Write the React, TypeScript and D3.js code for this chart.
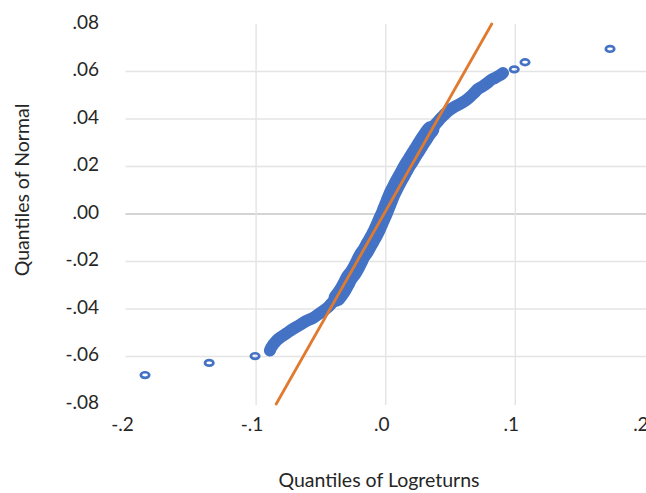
import React, { useEffect, useRef } from 'react';
import * as d3 from 'd3';

// Quantiles of Logreturns (x) vs quantiles of the Normal (y)
const logQuantiles = [
  -0.1857, -0.1362, -0.1008, -0.0893, -0.0885, -0.0846, -0.0808, -0.0762, -0.0715,
  -0.0661, -0.0615, -0.0561, -0.0507, -0.0453, -0.0415, -0.0376, -0.0337, -0.0306,
  -0.0283, -0.0252, -0.0229, -0.0206, -0.0183, -0.0152, -0.0133, -0.0113, -0.0094,
  -0.0075, -0.0059, -0.0044, -0.0029, -0.0013, 0.0002, 0.0018, 0.0033, 0.0049, 0.0068,
  0.0087, 0.0106, 0.0126, 0.0145, 0.0164, 0.0184, 0.0203, 0.0222, 0.0241, 0.0261,
  0.028, 0.0303, 0.0326, 0.0349, 0.0372, 0.0396, 0.0419, 0.0446, 0.0473, 0.0504,
  0.0542, 0.0573, 0.0612, 0.065, 0.0681, 0.0712, 0.0751, 0.0782, 0.0812, 0.0843,
  0.0882, 0.0897, 0.0905, 0.0992, 0.1075, 0.1731,
];
const normalQuantiles = [
  -0.0678, -0.0627, -0.0598, -0.0575, -0.0564, -0.0535, -0.0518, -0.0501, -0.0484,
  -0.0467, -0.0451, -0.0438, -0.0417, -0.0396, -0.0375, -0.0354, -0.0325, -0.0295,
  -0.027, -0.0248, -0.0227, -0.0202, -0.0177, -0.0152, -0.0133, -0.0114, -0.0095,
  -0.0076, -0.0057, -0.0038, -0.0019, 0.0, 0.0021, 0.0042, 0.0063, 0.0084, 0.0105,
  0.0126, 0.0145, 0.0164, 0.0183, 0.0202, 0.0219, 0.0236, 0.0253, 0.0269, 0.0286,
  0.0303, 0.0322, 0.0341, 0.0356, 0.0371, 0.0385, 0.04, 0.0415, 0.0429, 0.0442,
  0.0455, 0.0463, 0.0476, 0.0493, 0.0509, 0.0526, 0.0539, 0.0551, 0.0564, 0.0573,
  0.0585, 0.059, 0.0594, 0.0609, 0.0639, 0.0695,
];

// Reference (normal) line endpoints
const lineX = [-0.0845, 0.0818];
const lineY = [-0.08, 0.08];

const xTicks = [-0.2, -0.1, 0, 0.1, 0.2];
const yTicks = [-0.08, -0.06, -0.04, -0.02, 0, 0.02, 0.04, 0.06, 0.08];

const BLUE = '#4472C4';
const ORANGE = '#E07A2E';
const FONT = 'Lato, "Open Sans", sans-serif';

const fmt = (v: number, digits: number) => {
  const s = Math.abs(v).toFixed(digits).replace(/^0/, '');
  return v < 0 ? '-' + s : s;
};

const App = () => {
  const ref = useRef<SVGSVGElement | null>(null);

  useEffect(() => {
    const svg = d3.select(ref.current);
    svg.selectAll('*').remove();

    const width = 646;
    const height = 493;

    const x = d3.scaleLinear().domain([-0.2, 0.2]).range([126.5, 644.9]);
    const y = d3.scaleLinear().domain([-0.08, 0.08]).range([404, 24]);

    svg.append('rect').attr('width', width).attr('height', height).attr('fill', '#fff');

    // Gridlines
    const grid = svg.append('g');
    grid.selectAll('.hgrid')
      .data(yTicks.filter(t => Math.abs(t) < 0.07))
      .enter()
      .append('line')
      .attr('x1', x(-0.2) - 1)
      .attr('x2', width)
      .attr('y1', d => y(d))
      .attr('y2', d => y(d))
      .attr('stroke', d => (d === 0 ? '#c6c6c6' : '#e4e4e4'))
      .attr('stroke-width', 1.4);

    grid.selectAll('.vgrid')
      .data(xTicks.filter(t => Math.abs(t) < 0.15))
      .enter()
      .append('line')
      .attr('x1', d => x(d))
      .attr('x2', d => x(d))
      .attr('y1', y(0.08))
      .attr('y2', y(-0.08) + 1)
      .attr('stroke', '#e4e4e4')
      .attr('stroke-width', 1.4);

    // Tick labels
    svg.selectAll('.ylab')
      .data(yTicks)
      .enter()
      .append('text')
      .attr('x', 99)
      .attr('y', d => y(d) + 4.8)
      .attr('text-anchor', 'end')
      .attr('font-family', FONT)
      .attr('font-size', '19px')
      .attr('fill', '#262626')
      .text(d => fmt(d, 2));

    svg.selectAll('.xlab')
      .data(xTicks)
      .enter()
      .append('text')
      .attr('x', d => x(d) - 4)
      .attr('y', 431)
      .attr('text-anchor', 'middle')
      .attr('font-family', FONT)
      .attr('font-size', '19px')
      .attr('fill', '#262626')
      .text(d => fmt(d, 1));

    // Axis titles
    svg.append('text')
      .attr('x', 379)
      .attr('y', 487)
      .attr('text-anchor', 'middle')
      .attr('font-family', FONT)
      .attr('font-size', '19.5px')
      .attr('fill', '#262626')
      .text('Quantiles of Logreturns');

    svg.append('text')
      .attr('transform', 'translate(29,190) rotate(-90)')
      .attr('text-anchor', 'middle')
      .attr('font-family', FONT)
      .attr('font-size', '19.5px')
      .attr('fill', '#262626')
      .text('Quantiles of Normal');

    // Points
    const pts = logQuantiles.map((v, i) => ({ x: v, y: normalQuantiles[i] }));

    // split into runs of closely packed points (they merge into a solid band)
    const runs: { x: number; y: number }[][] = [];
    pts.forEach((p, i) => {
      const prev = pts[i - 1];
      const gap = prev ? Math.hypot(x(p.x) - x(prev.x), y(p.y) - y(prev.y)) : Infinity;
      if (gap > 10.5) runs.push([p]);
      else runs[runs.length - 1].push(p);
    });

    const line = d3.line<{ x: number; y: number }>()
      .x(d => x(d.x))
      .y(d => y(d.y))
      .curve(d3.curveCatmullRom);

    const band = svg.append('g');
    runs.filter(r => r.length > 1).forEach(r => {
      band.append('path')
        .attr('d', line(r))
        .attr('fill', 'none')
        .attr('stroke', BLUE)
        .attr('stroke-width', 12)
        .attr('stroke-linecap', 'round')
        .attr('stroke-linejoin', 'round');
      const inner = r.filter(p => Math.abs(p.y) < 0.036);
      if (inner.length > 1) {
        band.append('path')
          .attr('d', line(inner))
          .attr('fill', 'none')
          .attr('stroke', BLUE)
          .attr('stroke-width', 17)
          .attr('stroke-linecap', 'round')
          .attr('stroke-linejoin', 'round');
      }
    });

    svg.selectAll('.pt')
      .data(pts)
      .enter()
      .append('ellipse')
      .attr('cx', d => x(d.x))
      .attr('cy', d => y(d.y))
      .attr('rx', 4.2)
      .attr('ry', 2.8)
      .attr('fill', 'none')
      .attr('stroke', BLUE)
      .attr('stroke-width', 2.7);

    // Reference line
    svg.append('line')
      .attr('x1', x(lineX[0]))
      .attr('y1', y(lineY[0]))
      .attr('x2', x(lineX[1]))
      .attr('y2', y(lineY[1]))
      .attr('stroke', ORANGE)
      .attr('stroke-width', 2.8)
      .attr('stroke-linecap', 'round');
  }, []);

  return (
    <svg
      ref={ref}
      width={646}
      height={493}
      style={{ position: 'absolute', left: 0, top: 0 }}
    />
  );
};

export default App;
